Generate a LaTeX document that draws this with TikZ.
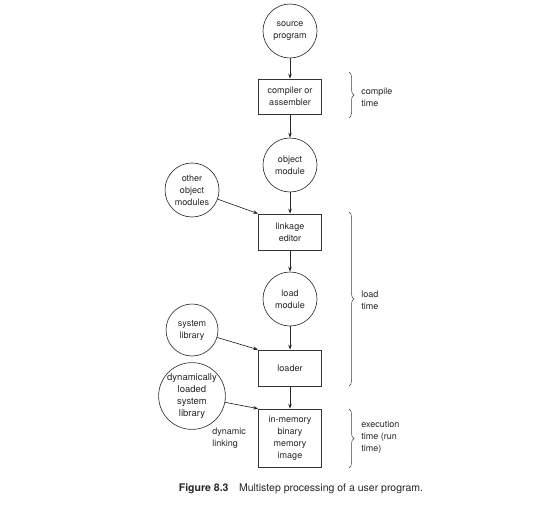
\documentclass[tikz,border=0pt]{standalone}
\usepackage{fontspec}
\setmainfont{TeX Gyre Heros}
\usetikzlibrary{arrows.meta,decorations.pathreplacing}
\begin{document}
\begin{tikzpicture}[x=1pt,y=-1pt,
  every node/.style={font=\fontsize{9}{12}\selectfont, align=center, inner sep=0pt, text=black!85},
  circ/.style={draw=black!80, circle, minimum size=54pt},
  proc/.style={draw=black!80, rectangle, minimum width=63pt, minimum height=36pt},
  arr/.style={-{Stealth[length=5pt,width=3.5pt]}, line width=0.65pt, draw=black!85},
  brc/.style={decorate, decoration={brace, amplitude=5pt}, line width=0.5pt, draw=black!75},
  lbl/.style={anchor=west, align=left},
  line width=0.65pt]
\useasboundingbox (0,0) rectangle (554,516);
% main column
\node[circ] (src) at (290,31) {source\\program};
\node[proc, minimum height=35pt] (comp) at (290,96.5) {compiler or\\assembler};
\node[circ] (obj) at (290,165) {object\\module};
\node[proc] (link) at (290,232) {linkage\\editor};
\node[circ] (load) at (290,299) {load\\module};
\node[proc] (ldr) at (290,368) {loader};
\node[proc, minimum height=58pt] (mem) at (290,438) {in-memory\\binary\\memory\\image};
% side inputs
\node[circ] (oom) at (192,190) {other\\object\\modules};
\node[circ, minimum size=52pt] (sys) at (192,330) {system\\library};
\node[circ, minimum size=64pt, font=\fontsize{9.5}{12}\selectfont] (dyn) at (192,396) {dynamically\\loaded\\system\\library};
% arrows
\draw[arr] (src) -- (comp);
\draw[arr] (comp) -- (obj);
\draw[arr] (obj) -- (link);
\draw[arr] (link) -- (load);
\draw[arr] (load) -- (ldr);
\draw[arr] (ldr) -- (mem);
\draw[arr] (oom) -- (link.north west);
\draw[arr] (sys) -- (ldr.north west);
\draw[arr] (dyn) -- (mem.north west);
% braces
\coordinate (b1a) at (349,72);  \coordinate (b1b) at (349,118);
\coordinate (b2a) at (349,212); \coordinate (b2b) at (349,386);
\coordinate (b3a) at (349,409); \coordinate (b3b) at (349,468);
\draw[brc] (b1a) -- (b1b);
\draw[brc] (b2a) -- (b2b);
\draw[brc] (b3a) -- (b3b);
% labels
\node[lbl] (ct) at (361,97) {compile\\time};
\node[lbl] (lt) at (361,300) {load\\time};
\node[lbl] (et) at (361,437) {execution\\time (run\\time)};
\node[lbl] (dl) at (212,438) {dynamic\\linking};
\node[font=\fontsize{10.5}{12}\selectfont] (cap) at (301,489) {\textbf{Figure 8.3}\quad Multistep processing of a user program.};
\end{tikzpicture}
\end{document}
